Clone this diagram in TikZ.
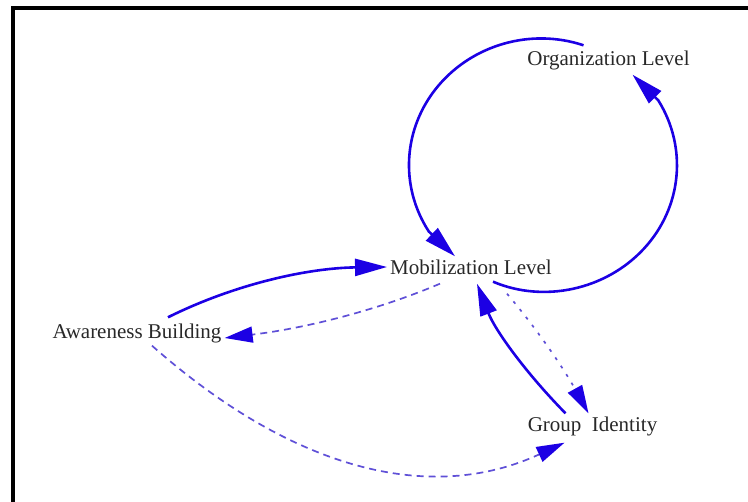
\documentclass[tikz,border=0pt]{standalone}
\usepackage{fontspec}
\setmainfont{Liberation Serif}
\usetikzlibrary{arrows.meta}
\definecolor{solidblue}{RGB}{28,0,228}
\definecolor{dashblue}{RGB}{95,80,215}
\definecolor{textgray}{RGB}{40,40,40}
\tikzset{
  lbl/.style={inner sep=3pt, text height=15pt, text depth=4pt, text=textgray,
    font=\fontsize{21pt}{25pt}\selectfont},
  solidlink/.style={draw=solidblue, line width=2.6pt,
    -{Triangle[length=32pt,width=17pt,color=solidblue]}},
  dashlink/.style={draw=dashblue, line width=1.7pt, dash pattern=on 7pt off 5pt,
    -{Triangle[length=28pt,width=16pt,color=solidblue]}},
  dotlink/.style={draw=dashblue, line width=1.7pt, dash pattern=on 3pt off 7pt,
    -{Triangle[length=28pt,width=16pt,color=solidblue]}},
}
\begin{document}
\begin{tikzpicture}[x=1pt,y=1pt]
\useasboundingbox (0,0) rectangle (748,502);
\draw[line width=4pt, line join=miter] (13,0) -- (13,494) -- (748,494);

\node[lbl] (org) at (608.5,442) {Organization Level};
\node[lbl] (mob) at (471,233) {Mobilization Level};
\node[lbl] (aware) at (137,169) {Awareness Building};
\node[lbl] (group) at (592.5,76) {Group\hspace{0.25em} Identity};

% Organization -> Mobilization (upper-left arc)
\draw[solidlink] ([xshift=-25pt,yshift=2pt]org.north)
  .. controls (531,474.2) and (472.4,457.3) .. (437.7,415.5)
  .. controls (403,373.7) and (399.4,315.8) .. (428.8,270.5)
  -- ([xshift=-16pt]mob.north);
% Mobilization -> Organization (lower-right arc)
\draw[solidlink] ([xshift=22pt]mob.south)
  .. controls (543.8,198.7) and (605.8,212.1) .. (643.9,253.3)
  .. controls (682,294.5) and (687.7,354.4) .. (658.3,401.6)
  -- ([xshift=24pt,yshift=-2pt]org.south);
% Awareness -> Mobilization
\draw[solidlink] ([xshift=31pt,yshift=3pt]aware.north)
  .. controls (235,218) and (308,234) .. ([yshift=2pt]mob.west);
% Mobilization -> Awareness (dashed)
\draw[dashlink] ([xshift=-31pt,yshift=-2pt]mob.south)
  .. controls (378,192) and (307,174) .. ([yshift=-5pt]aware.east);
% Awareness -> Group (dashed)
\draw[dashlink] ([xshift=15pt]aware.south)
  .. controls (295,30) and (432,-2) .. ([xshift=-28pt,yshift=-4pt]group.south);
% Group -> Mobilization
\draw[solidlink] ([xshift=-27pt]group.north)
  .. controls (525,130) and (495,172) .. ([xshift=6pt,yshift=-2pt]mob.south);
% Mobilization -> Group (dotted)
\draw[dotlink] ([xshift=36pt,yshift=-12pt]mob.south)
  .. controls (537,173) and (564,133) .. ([xshift=-4pt]group.north);
\end{tikzpicture}
\end{document}
